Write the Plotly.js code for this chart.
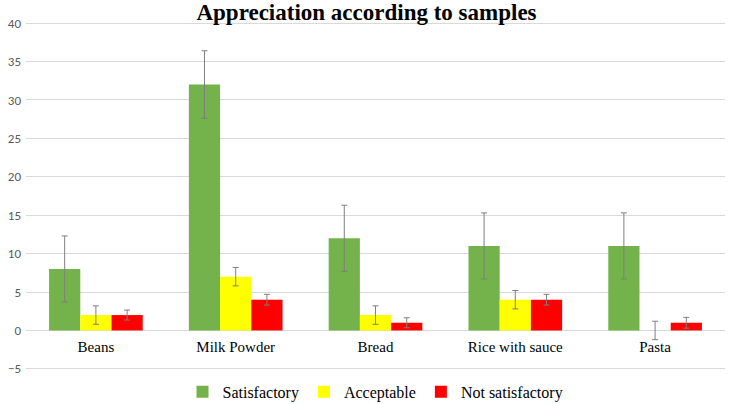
<!DOCTYPE html>
<html>
<head>
<meta charset="utf-8">
<script src="https://cdn.plot.ly/plotly-3.0.1.min.js"></script>
<style>html,body{margin:0;padding:0;background:#fff}#chart{width:733px;height:404px}</style>
</head>
<body>
<div id="chart"></div>
<script>
const categories = ["Beans", "Milk Powder", "Bread", "Rice with sauce", "Pasta"];
const satisfactory = [8, 32, 12, 11, 11];
const acceptable = [2, 7, 2, 4, 0];
const notSatisfactory = [2, 4, 1, 4, 1];
const errSatisfactory = [4.3, 4.4, 4.3, 4.3, 4.3];
const errAcceptable = [1.2, 1.2, 1.2, 1.2, 1.2];
const errNotSatisfactory = [0.65, 0.7, 0.65, 0.7, 0.7];
const yTicks = [-5, 0, 5, 10, 15, 20, 25, 30, 35, 40];

function errBar(arr) {
  return {type: 'data', array: arr, visible: true, color: '#7f7f7f', thickness: 1, width: 3};
}
const traces = [
  {type: 'bar', name: 'Satisfactory', x: categories, y: satisfactory,
   marker: {color: '#74b24c'}, error_y: errBar(errSatisfactory)},
  {type: 'bar', name: 'Acceptable', x: categories, y: acceptable,
   marker: {color: '#ffff00'}, error_y: errBar(errAcceptable)},
  {type: 'bar', name: 'Not satisfactory', x: categories, y: notSatisfactory,
   marker: {color: '#ff0000'}, error_y: errBar(errNotSatisfactory)}
];
const layout = {
  width: 733, height: 404,
  margin: {l: 26, r: 8, t: 22, b: 34, autoexpand: false},
  paper_bgcolor: '#ffffff', plot_bgcolor: '#ffffff',
  title: {text: '<b>Appreciation according to samples</b>', x: 0.5, xanchor: 'center', y: 0.97, yanchor: 'middle',
    font: {family: '"Liberation Serif", "Times New Roman", serif', size: 23, color: '#000000'}},
  barmode: 'group', bargap: 0.33, bargroupgap: 0,
  showlegend: true,
  legend: {orientation: 'h', x: 0.5, xanchor: 'center', y: -0.063, yanchor: 'middle',
    font: {family: '"Liberation Serif", "Times New Roman", serif', size: 16, color: '#000000'},
    itemwidth: 30, traceorder: 'normal'},
  xaxis: {anchor: 'free', position: 5.15 / 45.3, showline: false, ticks: '', showgrid: false, zeroline: false,
    ticklabelstandoff: 6,
    tickfont: {family: '"Liberation Serif", "Times New Roman", serif', size: 15, color: '#000000'}},
  yaxis: {range: [-5.15, 40.15], tickvals: yTicks, showgrid: true, gridcolor: '#d9d9d9', gridwidth: 1,
    zeroline: false, showline: false, ticks: '', ticklabelstandoff: 4,
    tickfont: {family: 'Carlito, "Liberation Sans", Arial, sans-serif', size: 13, color: '#595959'}}
};
Plotly.newPlot('chart', traces, layout, {displayModeBar: false, staticPlot: true});
</script>
</body>
</html>
